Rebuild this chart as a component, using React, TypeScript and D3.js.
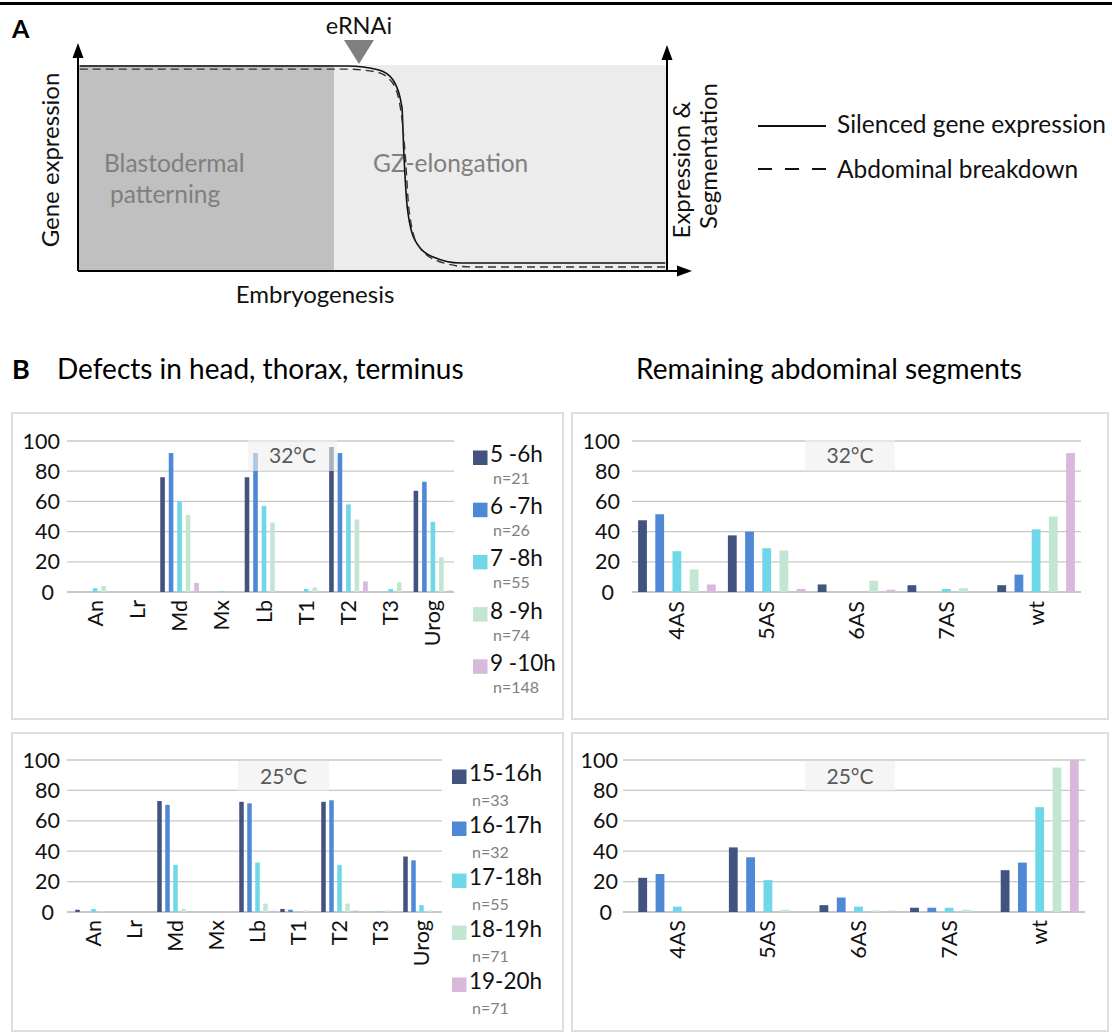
import React from 'react';
import * as d3 from 'd3';

const FONT = 'Lato, "Open Sans", sans-serif';

// ---------- Panel A schematic (time 0-100, expression 0-100) ----------
const SOLID_T = [0.3, 45.8, 51.1, 53.5, 55.0, 55.3, 55.9, 57.2, 60.3, 64.9, 99.7];
const SOLID_E = [99.5, 99.5, 97.6, 92.7, 79.5, 58.5, 30.7, 14.6, 6.3, 3.4, 3.4];
const DASH_T = [0.3, 45.3, 50.6, 53.3, 54.8, 55.5, 56.2, 57.7, 61.1, 66.6, 99.7];
const DASH_E = [98.0, 98.0, 96.6, 91.7, 78.0, 58.5, 29.3, 12.2, 4.4, 1.5, 1.5];
const PHASES = ['Blastodermal|patterning', 'GZ-elongation'];
const PHASE_BOUNDS = [0, 43.5, 100];
const ERNAI_T = 47.7;

// ---------- Panel B data ----------
const CATS_HTT = ['An', 'Lr', 'Md', 'Mx', 'Lb', 'T1', 'T2', 'T3', 'Urog'];
const CATS_ABD = ['4AS', '5AS', '6AS', '7AS', 'wt'];
const SERIES_32 = ['5 -6h', '6 -7h', '7 -8h', '8 -9h', '9 -10h'];
const N_32 = ['n=21', 'n=26', 'n=55', 'n=74', 'n=148'];
const SERIES_25 = ['15-16h', '16-17h', '17-18h', '18-19h', '19-20h'];
const N_25 = ['n=33', 'n=32', 'n=55', 'n=71', 'n=71'];
const Y_TICKS = [0, 20, 40, 60, 80, 100];

const HTT32_S0 = [0, 0, 76, 0, 76, 0, 96, 0, 67];
const HTT32_S1 = [0, 0, 92, 0, 92, 0, 92, 0, 73];
const HTT32_S2 = [2.5, 0, 60, 0.5, 57, 2, 58, 2, 46.5];
const HTT32_S3 = [4, 0, 51, 0, 46, 3, 48, 6.5, 23];
const HTT32_S4 = [0, 0, 6, 0, 0, 0, 7, 0, 1];

const ABD32_S0 = [47.5, 37.5, 5, 4.5, 4.5];
const ABD32_S1 = [51.5, 40, 0, 0, 11.5];
const ABD32_S2 = [27, 29, 0, 2, 41.5];
const ABD32_S3 = [15, 27.5, 7.5, 2.5, 50];
const ABD32_S4 = [5, 2, 1.5, 0, 92];

const HTT25_S0 = [1.5, 0, 73, 0, 72.5, 2, 72.5, 0, 36.5];
const HTT25_S1 = [0, 0, 70.5, 0, 71.5, 1.5, 73.5, 0, 34];
const HTT25_S2 = [2, 0, 31, 0, 32.5, 0, 31, 0.5, 4.5];
const HTT25_S3 = [0.5, 0, 2, 0.3, 5.5, 1, 5.5, 1, 1];
const HTT25_S4 = [0, 0, 0, 0, 0.8, 0, 1, 0, 0];

const ABD25_S0 = [22.5, 42.5, 4.5, 2.8, 27.5];
const ABD25_S1 = [25, 36, 9.5, 2.8, 32.5];
const ABD25_S2 = [3.5, 21, 3.5, 2.8, 69];
const ABD25_S3 = [0, 1.5, 1, 1.5, 95];
const ABD25_S4 = [0, 0, 0.8, 0, 100];

const COLORS = ['#42537f', '#4f88d5', '#6fd7e7', '#c3e6d3', '#d8b8db'];

type ChartProps = {
  cats: string[];
  values: number[][];
  band: [number, number];
  gridX0: number;
  y0: number;
  y100: number;
  slot: number;
  barW: number;
  labelTop: number;
  tickRight: number;
  temp: string;
  box: [number, number, number, number];
};

function BarChart(p: ChartProps) {
  const x = d3.scaleBand<string>().domain(p.cats).range(p.band).padding(0);
  const y = d3.scaleLinear().domain([0, 100]).range([p.y0, p.y100]);
  const n = p.values.length;
  const off = (i: number) => (i - (n - 1) / 2) * p.slot;
  return (
    <g>
      {Y_TICKS.map((t) => (
        <g key={t}>
          <line x1={p.gridX0} x2={p.band[1]} y1={y(t)} y2={y(t)} stroke={t === 0 ? '#b4b4b4' : '#c8c8c8'} strokeWidth={1.3} />
          <text x={p.tickRight - (t === 0 ? 6 : 0)} y={y(t) + 7.5} textAnchor="end" fontSize={21.5} fill="#111" fontFamily={FONT}>
            {t}
          </text>
        </g>
      ))}
      {p.values.map((vals, si) =>
        vals.map((v, ci) => {
          const cx = (x(p.cats[ci]) as number) + x.bandwidth() / 2 + off(si);
          return (
            <rect key={`${si}-${ci}`} x={cx - p.barW / 2} y={y(v)} width={p.barW} height={p.y0 - y(v)} fill={COLORS[si]} />
          );
        })
      )}
      <rect x={p.box[0]} y={p.box[1]} width={p.box[2]} height={p.box[3]} fill="#efefef" fillOpacity={0.6} />
      <text x={p.box[0] + p.box[2] / 2} y={p.box[1] + p.box[3] / 2 + 7.5} textAnchor="middle" fontSize={21} fill="#595959" fontFamily={FONT}>
        {p.temp}
      </text>
      {p.cats.map((c) => {
        const cx = (x(c) as number) + x.bandwidth() / 2;
        return (
          <text key={c} transform={`translate(${cx + 7.5},${p.labelTop}) rotate(-90)`} textAnchor="end" fontSize={21.5} fill="#111" fontFamily={FONT}>
            {c}
          </text>
        );
      })}
    </g>
  );
}

function Legend({ labels, ns, x, y0, step, nGap }: { labels: string[]; ns: string[]; x: number; y0: number; step: number; nGap: number }) {
  return (
    <g>
      {labels.map((l, i) => {
        const by = y0 + i * step;
        return (
          <g key={l}>
            <rect x={x} y={by - 11.5} width={14.5} height={14.5} fill={COLORS[i]} />
            <text x={x + 17} y={by} fontSize={22.5} fill="#111" fontFamily={FONT}>
              {l}
            </text>
            <text x={x + 20} y={by + nGap} fontSize={16} fill="#808080" fontFamily={FONT}>
              {ns[i]}
            </text>
          </g>
        );
      })}
    </g>
  );
}

function PanelA() {
  const xs = d3.scaleLinear().domain([0, 100]).range([78, 667]);
  const ys = d3.scaleLinear().domain([0, 100]).range([270, 65]);
  const line = d3
    .line<[number, number]>()
    .x((d) => xs(d[0]))
    .y((d) => ys(d[1]))
    .curve(d3.curveMonotoneX);
  const solid = line(SOLID_T.map((t, i) => [t, SOLID_E[i]]) as [number, number][]) || '';
  const dashed = line(DASH_T.map((t, i) => [t, DASH_E[i]]) as [number, number][]) || '';
  const ex = xs(ERNAI_T);
  return (
    <g fontFamily={FONT}>
      <rect x={xs(PHASE_BOUNDS[0])} y={ys(100)} width={xs(PHASE_BOUNDS[1]) - xs(PHASE_BOUNDS[0])} height={ys(0) - ys(100)} fill="#c0c0c0" />
      <rect x={xs(PHASE_BOUNDS[1])} y={ys(100)} width={xs(PHASE_BOUNDS[2]) - xs(PHASE_BOUNDS[1])} height={ys(0) - ys(100)} fill="#ececec" />
      <text x={104} y={172} fontSize={24.5} fill="#7f7f7f">{PHASES[0].split('|')[0]}</text>
      <text x={110} y={203} fontSize={24.5} fill="#7f7f7f">{PHASES[0].split('|')[1]}</text>
      <text x={373} y={172} fontSize={24.5} fill="#7f7f7f">{PHASES[1]}</text>
      <path d={solid} fill="none" stroke="#111" strokeWidth={1.6} />
      <path d={dashed} fill="none" stroke="#333" strokeWidth={1.4} strokeDasharray="8,5" />
      {/* axes */}
      <line x1={78} y1={271} x2={78} y2={55} stroke="#000" strokeWidth={2} />
      <path d="M78,43 L72.5,58 L83.5,58 Z" fill="#000" />
      <line x1={667} y1={271} x2={667} y2={57} stroke="#000" strokeWidth={2} />
      <path d="M667,45 L661.5,60 L672.5,60 Z" fill="#000" />
      <line x1={78} y1={271} x2={678} y2={271} stroke="#000" strokeWidth={2} />
      <path d="M692,271 L677,265.5 L677,276.5 Z" fill="#000" />
      {/* eRNAi */}
      <text x={ex} y={34} textAnchor="middle" fontSize={23.5} fill="#111">eRNAi</text>
      <path d={`M${ex - 15},40 L${ex + 15},40 L${ex},64 Z`} fill="#808080" />
      <text transform="translate(59,160) rotate(-90)" textAnchor="middle" fontSize={24} fill="#111">Gene expression</text>
      <text x={315} y={303} textAnchor="middle" fontSize={24} fill="#111">Embryogenesis</text>
      <text transform="translate(690,170) rotate(-90)" textAnchor="middle" fontSize={24} fill="#111">Expression &amp;</text>
      <text transform="translate(717,156) rotate(-90)" textAnchor="middle" fontSize={24} fill="#111">Segmentation</text>
      {/* legend */}
      <line x1={758} x2={826} y1={126} y2={126} stroke="#111" strokeWidth={2} />
      <line x1={758} x2={826} y1={169} y2={169} stroke="#111" strokeWidth={2} strokeDasharray="14,13" />
      <text x={837} y={133} fontSize={24.5} fill="#111">Silenced gene expression</text>
      <text x={837} y={178} fontSize={24.5} fill="#111">Abdominal breakdown</text>
      <text x={12} y={38} fontSize={25} fontWeight="bold" fill="#000">A</text>
    </g>
  );
}

export default function App() {
  return (
    <svg width={1112} height={1032} viewBox="0 0 1112 1032" style={{ position: 'absolute', left: 0, top: 0, background: '#fff' }}>
      <rect x={0} y={0} width={1112} height={1032} fill="#fff" />
      <line x1={0} x2={1112} y1={3.5} y2={3.5} stroke="#000" strokeWidth={3} />
      <PanelA />
      <g fontFamily={FONT}>
        <text x={12} y={379} fontSize={27} fontWeight="bold" fill="#000">B</text>
        <text x={57} y={379} fontSize={28} fill="#000">Defects in head, thorax, terminus</text>
        <text x={636} y={379} fontSize={28} fill="#000">Remaining abdominal segments</text>
      </g>
      {/* panel boxes */}
      <rect x={12} y={413} width={551} height={306} fill="none" stroke="#d4d4d4" strokeWidth={1.5} />
      <rect x={572} y={413} width={536} height={306} fill="none" stroke="#d4d4d4" strokeWidth={1.5} />
      <rect x={12} y={733} width={551} height={298} fill="none" stroke="#d4d4d4" strokeWidth={1.5} />
      <rect x={572} y={733} width={536} height={298} fill="none" stroke="#d4d4d4" strokeWidth={1.5} />

      <BarChart
        cats={CATS_HTT}
        values={[HTT32_S0, HTT32_S1, HTT32_S2, HTT32_S3, HTT32_S4]}
        band={[74, 454]}
        gridX0={67}
        y0={592}
        y100={441}
        slot={8.5}
        barW={4.6}
        labelTop={600}
        tickRight={60}
        temp="32°C"
        box={[248, 440, 89, 31]}
      />
      <Legend labels={SERIES_32} ns={N_32} x={473} y0={462} step={52.2} nGap={22} />

      <BarChart
        cats={CATS_ABD}
        values={[ABD32_S0, ABD32_S1, ABD32_S2, ABD32_S3, ABD32_S4]}
        band={[632, 1081]}
        gridX0={632}
        y0={592}
        y100={441}
        slot={17.2}
        barW={8.8}
        labelTop={601}
        tickRight={620}
        temp="32°C"
        box={[805, 440, 90, 31]}
      />

      <BarChart
        cats={CATS_HTT}
        values={[HTT25_S0, HTT25_S1, HTT25_S2, HTT25_S3, HTT25_S4]}
        band={[73, 442]}
        gridX0={67}
        y0={912}
        y100={760}
        slot={8}
        barW={4.5}
        labelTop={920}
        tickRight={60}
        temp="25°C"
        box={[238, 761, 91, 30]}
      />
      <Legend labels={SERIES_25} ns={N_25} x={452} y0={781} step={52} nGap={25} />

      <BarChart
        cats={CATS_ABD}
        values={[ABD25_S0, ABD25_S1, ABD25_S2, ABD25_S3, ABD25_S4]}
        band={[632, 1085]}
        gridX0={623}
        y0={912}
        y100={760}
        slot={17.3}
        barW={8.8}
        labelTop={920}
        tickRight={618}
        temp="25°C"
        box={[805, 761, 90, 31]}
      />
    </svg>
  );
}
